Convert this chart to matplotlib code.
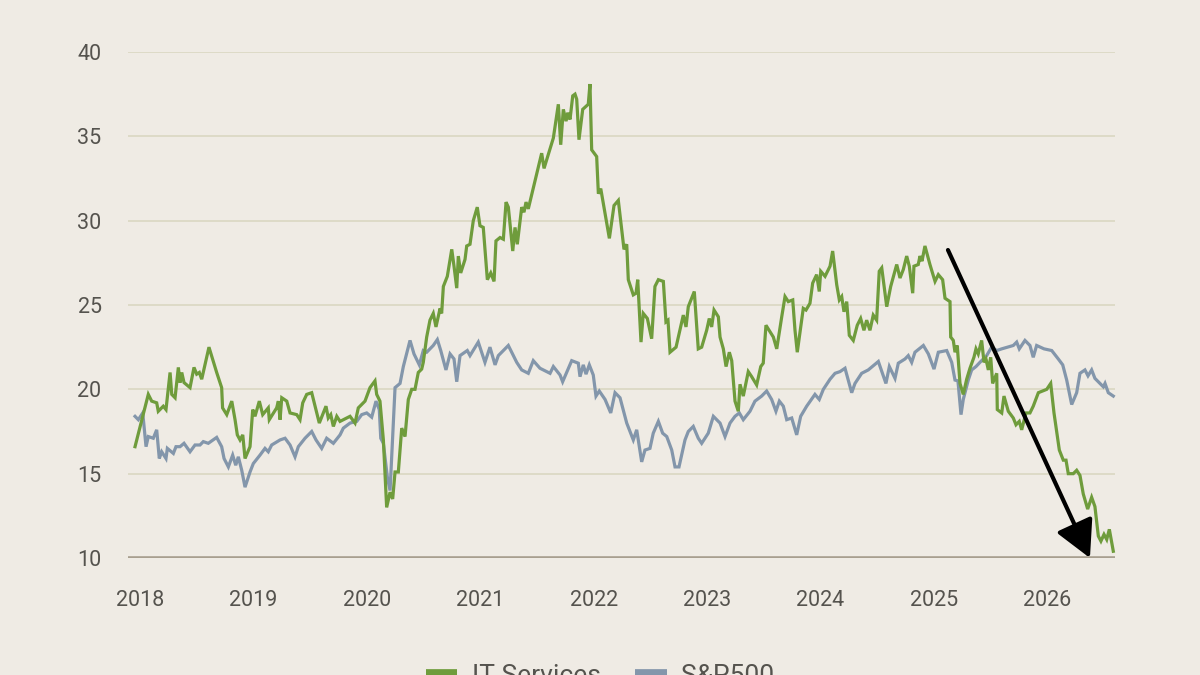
import matplotlib
matplotlib.use("Agg")
import matplotlib.pyplot as plt
from matplotlib.lines import Line2D
from matplotlib import font_manager

# ---------------- data ----------------
it_year = [2017.956, 2018.073, 2018.103, 2018.147, 2018.161, 2018.205, 2018.229, 2018.265, 2018.280, 2018.309,
           2018.338, 2018.353, 2018.368, 2018.388, 2018.441, 2018.476, 2018.500, 2018.523, 2018.544, 2018.564,
           2018.608, 2018.676, 2018.720, 2018.728, 2018.765, 2018.809, 2018.838, 2018.858, 2018.882, 2018.906,
           2018.926, 2018.970, 2018.994, 2019.014, 2019.052, 2019.082, 2019.131, 2019.140, 2019.205, 2019.220,
           2019.235, 2019.250, 2019.294, 2019.323, 2019.382, 2019.411, 2019.435, 2019.470, 2019.514, 2019.581,
           2019.640, 2019.660, 2019.682, 2019.705, 2019.735, 2019.764, 2019.852, 2019.896, 2019.925, 2019.984,
           2020.028, 2020.072, 2020.087, 2020.116, 2020.146, 2020.175, 2020.205, 2020.228, 2020.249, 2020.278,
           2020.308, 2020.337, 2020.366, 2020.396, 2020.425, 2020.454, 2020.484, 2020.498, 2020.528, 2020.557,
           2020.586, 2020.610, 2020.646, 2020.660, 2020.675, 2020.710, 2020.749, 2020.769, 2020.793, 2020.807,
           2020.828, 2020.866, 2020.881, 2020.910, 2020.939, 2020.974, 2020.998, 2021.027, 2021.063, 2021.093,
           2021.122, 2021.139, 2021.175, 2021.204, 2021.228, 2021.248, 2021.287, 2021.307, 2021.327, 2021.366,
           2021.386, 2021.404, 2021.424, 2021.542, 2021.563, 2021.645, 2021.689, 2021.710, 2021.733, 2021.757,
           2021.772, 2021.792, 2021.816, 2021.836, 2021.851, 2021.871, 2021.904, 2021.953, 2021.968, 2021.983,
           2022.027, 2022.042, 2022.063, 2022.139, 2022.180, 2022.218, 2022.268, 2022.292, 2022.306, 2022.350,
           2022.374, 2022.389, 2022.418, 2022.438, 2022.474, 2022.512, 2022.541, 2022.571, 2022.615, 2022.638,
           2022.656, 2022.674, 2022.727, 2022.791, 2022.815, 2022.835, 2022.865, 2022.888, 2022.923, 2022.953,
           2022.997, 2023.020, 2023.041, 2023.062, 2023.100, 2023.115, 2023.144, 2023.168, 2023.197, 2023.218,
           2023.247, 2023.276, 2023.291, 2023.320, 2023.364, 2023.394, 2023.438, 2023.474, 2023.496, 2023.520,
           2023.585, 2023.615, 2023.659, 2023.688, 2023.717, 2023.756, 2023.776, 2023.796, 2023.849, 2023.873,
           2023.908, 2023.932, 2023.967, 2023.990, 2024.003, 2024.041, 2024.085, 2024.108, 2024.144, 2024.167,
           2024.188, 2024.208, 2024.232, 2024.255, 2024.290, 2024.325, 2024.355, 2024.384, 2024.408, 2024.437,
           2024.466, 2024.496, 2024.519, 2024.541, 2024.585, 2024.620, 2024.673, 2024.702, 2024.731, 2024.761,
           2024.784, 2024.814, 2024.825, 2024.863, 2024.878, 2024.896, 2024.922, 2024.966, 2025.011, 2025.040,
           2025.078, 2025.099, 2025.143, 2025.149, 2025.172, 2025.187, 2025.207, 2025.231, 2025.260, 2025.290,
           2025.319, 2025.354, 2025.372, 2025.392, 2025.422, 2025.443, 2025.460, 2025.481, 2025.502, 2025.519,
           2025.555, 2025.560, 2025.599, 2025.619, 2025.657, 2025.701, 2025.725, 2025.754, 2025.775, 2025.813,
           2025.848, 2025.877, 2025.922, 2025.996, 2026.031, 2026.060, 2026.107, 2026.142, 2026.166, 2026.186,
           2026.230, 2026.260, 2026.289, 2026.318, 2026.357, 2026.392, 2026.421, 2026.451, 2026.474, 2026.501,
           2026.525, 2026.548, 2026.583]
it_value = [16.6, 19.7, 19.3, 19.2, 18.7, 19.0, 18.8, 21.0, 19.7, 19.5,
            21.3, 20.4, 21.0, 20.4, 20.1, 21.3, 20.9, 21.0, 20.6, 21.2,
            22.5, 21.0, 20.1, 18.9, 18.5, 19.3, 18.2, 17.3, 17.0, 17.3,
            15.9, 16.6, 18.8, 18.4, 19.3, 18.5, 18.9, 18.2, 18.9, 19.3,
            18.2, 19.5, 19.3, 18.6, 18.5, 18.2, 19.2, 19.7, 19.8, 18.0,
            19.0, 18.3, 18.5, 17.8, 18.4, 18.1, 18.4, 18.0, 18.9, 19.3,
            20.1, 20.5, 19.7, 19.3, 17.0, 13.0, 13.9, 13.5, 15.1, 15.1,
            17.7, 17.2, 19.4, 20.0, 20.0, 21.0, 21.2, 21.6, 23.1, 24.1,
            24.5, 23.7, 24.8, 24.5, 26.1, 26.7, 28.3, 27.3, 26.0, 27.9,
            26.9, 27.7, 28.5, 28.6, 30.0, 30.8, 29.7, 29.6, 26.5, 26.9,
            26.4, 28.8, 29.0, 28.9, 31.1, 30.8, 28.2, 29.6, 28.6, 30.8,
            30.5, 31.1, 30.7, 34.0, 33.1, 34.9, 36.9, 34.5, 36.6, 35.9,
            36.4, 36.0, 37.4, 37.5, 37.2, 34.8, 36.6, 36.9, 38.1, 34.2,
            33.8, 31.6, 31.9, 28.95, 30.9, 31.2, 28.3, 28.6, 26.5, 25.6,
            25.7, 26.5, 22.8, 24.5, 24.2, 23.0, 26.1, 26.5, 26.4, 24.0,
            24.1, 22.2, 22.5, 24.4, 23.7, 24.9, 25.4, 25.8, 22.4, 22.5,
            23.5, 24.2, 23.7, 24.7, 24.3, 23.1, 22.4, 21.35, 22.2, 21.7,
            19.3, 18.7, 20.3, 19.6, 21.05, 20.75, 20.26, 21.35, 21.55, 23.8,
            23.1, 22.4, 24.3, 25.5, 25.2, 25.3, 23.5, 22.2, 24.8, 24.7,
            25.1, 26.3, 26.8, 25.8, 27.0, 26.7, 27.3, 28.2, 26.2, 25.3,
            25.5, 24.6, 25.2, 23.2, 22.9, 23.8, 24.2, 23.5, 24.1, 23.5,
            24.4, 24.1, 27.0, 27.2, 24.9, 26.1, 27.4, 26.6, 27.1, 27.9,
            27.3, 25.7, 27.3, 27.4, 27.9, 27.6, 28.5, 27.4, 26.4, 26.8,
            26.5, 25.4, 25.2, 23.1, 22.9, 22.2, 22.6, 20.35, 19.7, 20.6,
            21.25, 21.9, 22.4, 22.1, 22.9, 21.6, 21.8, 21.15, 21.9, 20.35,
            20.95, 18.8, 18.6, 19.6, 18.7, 18.3, 17.9, 18.1, 17.6, 18.6,
            18.6, 19.0, 19.8, 20.0, 20.35, 18.6, 16.4, 15.8, 15.8, 15.0,
            15.0, 15.2, 14.9, 13.8, 12.9, 13.6, 13.05, 11.3, 11.0, 11.4,
            11.1, 11.7, 10.4]

sp_year = [2017.956, 2017.985, 2018.024, 2018.053, 2018.073, 2018.117, 2018.147, 2018.170, 2018.191, 2018.229,
           2018.241, 2018.294, 2018.317, 2018.353, 2018.388, 2018.441, 2018.485, 2018.529, 2018.558, 2018.602,
           2018.676, 2018.720, 2018.741, 2018.779, 2018.817, 2018.844, 2018.867, 2018.897, 2018.926, 2018.970,
           2018.999, 2019.058, 2019.102, 2019.131, 2019.161, 2019.235, 2019.279, 2019.323, 2019.367, 2019.396,
           2019.455, 2019.514, 2019.552, 2019.602, 2019.646, 2019.705, 2019.764, 2019.793, 2019.852, 2019.911,
           2019.955, 2019.999, 2020.043, 2020.081, 2020.110, 2020.123, 2020.146, 2020.181, 2020.205, 2020.249,
           2020.293, 2020.322, 2020.381, 2020.416, 2020.463, 2020.498, 2020.528, 2020.586, 2020.622, 2020.652,
           2020.698, 2020.734, 2020.769, 2020.793, 2020.822, 2020.886, 2020.910, 2020.983, 2021.042, 2021.086,
           2021.131, 2021.160, 2021.204, 2021.248, 2021.322, 2021.366, 2021.424, 2021.468, 2021.527, 2021.616,
           2021.645, 2021.704, 2021.727, 2021.807, 2021.865, 2021.880, 2021.909, 2021.933, 2021.962, 2021.997,
           2022.021, 2022.050, 2022.101, 2022.151, 2022.189, 2022.233, 2022.292, 2022.350, 2022.380, 2022.424,
           2022.453, 2022.497, 2022.526, 2022.571, 2022.609, 2022.645, 2022.689, 2022.718, 2022.753, 2022.786,
           2022.806, 2022.835, 2022.879, 2022.923, 2022.953, 2023.011, 2023.056, 2023.115, 2023.159, 2023.203,
           2023.247, 2023.285, 2023.320, 2023.379, 2023.423, 2023.482, 2023.526, 2023.570, 2023.608, 2023.638,
           2023.673, 2023.703, 2023.747, 2023.791, 2023.826, 2023.879, 2023.952, 2023.990, 2024.026, 2024.085,
           2024.129, 2024.173, 2024.217, 2024.276, 2024.305, 2024.364, 2024.422, 2024.511, 2024.578, 2024.608,
           2024.658, 2024.687, 2024.746, 2024.775, 2024.805, 2024.834, 2024.908, 2024.952, 2025.002, 2025.040,
           2025.114, 2025.158, 2025.187, 2025.213, 2025.240, 2025.260, 2025.304, 2025.334, 2025.372, 2025.407,
           2025.466, 2025.510, 2025.555, 2025.599, 2025.701, 2025.731, 2025.754, 2025.804, 2025.848, 2025.877,
           2025.907, 2025.972, 2026.040, 2026.098, 2026.137, 2026.172, 2026.216, 2026.260, 2026.289, 2026.333,
           2026.360, 2026.392, 2026.421, 2026.451, 2026.495, 2026.510, 2026.539, 2026.583]
sp_value = [18.4, 18.2, 18.6, 16.6, 17.2, 17.1, 17.6, 15.9, 16.3, 15.9,
            16.5, 16.2, 16.6, 16.6, 16.8, 16.3, 16.7, 16.7, 16.9, 16.8,
            17.15, 16.6, 15.9, 15.4, 16.1, 15.5, 16.0, 15.2, 14.2, 15.1,
            15.6, 16.1, 16.5, 16.3, 16.7, 17.0, 17.1, 16.7, 16.0, 16.6,
            17.1, 17.5, 17.0, 16.5, 17.1, 16.8, 17.3, 17.7, 18.0, 18.1,
            18.5, 18.6, 18.35, 19.3, 18.8, 17.1, 16.8, 14.8, 14.0, 20.1,
            20.35, 21.35, 22.9, 22.1, 21.45, 22.3, 22.2, 22.6, 22.95, 22.3,
            21.15, 22.1, 21.8, 20.45, 22.0, 22.3, 22.0, 22.8, 21.6, 22.5,
            21.45, 22.0, 22.3, 22.6, 21.6, 21.15, 20.95, 21.7, 21.25, 20.95,
            21.35, 20.85, 20.45, 21.7, 21.55, 20.75, 21.45, 20.9, 21.45, 20.85,
            19.6, 19.9, 19.4, 18.6, 19.8, 19.5, 18.0, 17.0, 17.6, 15.7,
            16.4, 16.5, 17.4, 18.1, 17.4, 17.2, 16.4, 15.4, 15.4, 16.4,
            17.0, 17.5, 17.8, 17.1, 16.8, 17.4, 18.4, 18.0, 17.2, 18.0,
            18.4, 18.6, 18.2, 18.7, 19.3, 19.6, 19.9, 19.4, 18.7, 19.3,
            19.0, 18.2, 18.3, 17.3, 18.4, 19.0, 19.7, 19.4, 20.0, 20.6,
            20.95, 21.05, 21.25, 19.8, 20.35, 20.95, 21.15, 21.65, 20.35, 21.35,
            20.65, 21.55, 21.8, 22.0, 21.6, 22.2, 22.6, 22.1, 21.2, 22.2,
            22.3, 21.6, 20.55, 20.5, 18.5, 19.4, 20.55, 21.15, 21.35, 21.6,
            22.0, 22.5, 22.3, 22.4, 22.6, 22.8, 22.4, 22.9, 22.6, 21.9,
            22.6, 22.4, 22.3, 21.8, 21.45, 20.55, 19.1, 19.8, 20.95, 21.15,
            20.8, 21.15, 20.65, 20.45, 20.15, 20.35, 19.8, 19.6]

year_ticks = [2018, 2019, 2020, 2021, 2022, 2023, 2024, 2025, 2026]
y_ticks = [10, 15, 20, 25, 30, 35, 40]
series_names = ["IT Services", "S&P500"]

# arrow annotation (data units: year, value)
arrow_start = (2025.125, 28.26)
arrow_end = (2026.377, 10.0)

# ---------------- style ----------------
BG = "#efebe4"
GREEN = "#6f9c3c"
BLUE = "#8396ab"
GRID = "#dcd9c4"
BASE = "#a89f8f"
TXT = "#55534e"

avail = {f.name for f in font_manager.fontManager.ttflist}
fam = "Roboto" if "Roboto" in avail else "DejaVu Sans"
plt.rcParams["font.family"] = [fam, "DejaVu Sans"]

fig = plt.figure(figsize=(12, 6.75), dpi=100, facecolor=BG)
ax = fig.add_axes([128 / 1200, 1 - 558 / 675, (1115 - 128) / 1200, (558 - 52) / 675])
ax.set_facecolor(BG)

ax.set_xlim(2017.894, 2026.598)
ax.set_ylim(10, 40)

for yv in y_ticks[1:]:
    ax.axhline(yv, color=GRID, lw=1.3, zorder=1)
ax.axhline(10, color=BASE, lw=2.6, zorder=1)

ax.plot(sp_year, sp_value, color=BLUE, lw=2.3, zorder=3, clip_on=False, solid_joinstyle="miter")
ax.plot(it_year, it_value, color=GREEN, lw=2.3, zorder=4, clip_on=False, solid_joinstyle="miter")

ax.annotate("", xy=arrow_end, xytext=arrow_start,
            arrowprops=dict(arrowstyle="-|>,head_length=1.5,head_width=0.8",
                            color="black", lw=3, mutation_scale=15,
                            shrinkA=0, shrinkB=0), zorder=6, annotation_clip=False)

for s in ax.spines.values():
    s.set_visible(False)
ax.set_xticks(year_ticks)
ax.set_xticklabels([str(y) for y in year_ticks])
ax.set_yticks(y_ticks)
ax.tick_params(axis="both", length=0, colors=TXT, labelsize=15.5)
ax.tick_params(axis="x", pad=23)
ax.tick_params(axis="y", pad=19)

handles = [Line2D([0], [0], color=GREEN, lw=7, solid_capstyle="butt"),
           Line2D([0], [0], color=BLUE, lw=7, solid_capstyle="butt")]
leg = fig.legend(handles, series_names, loc="center", bbox_to_anchor=(0.5, -0.002),
                 ncol=2, frameon=False, handlelength=1.2, columnspacing=1.3,
                 handletextpad=0.55, labelcolor=TXT,
                 prop={"size": 19})

fig.savefig("out.png", dpi=100, facecolor=BG)
